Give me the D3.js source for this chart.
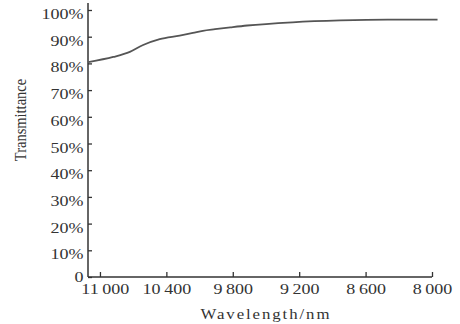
<!DOCTYPE html>
<html>
<head>
<meta charset="utf-8">
<script src="https://cdn.jsdelivr.net/npm/d3@7"></script>
<style>
  html, body { margin: 0; padding: 0; background: #fff; }
  svg text { font-family: "Liberation Serif", "Times New Roman", serif; fill: #333; }
</style>
</head>
<body>
<div id="chart"></div>
<script>
// Transmittance curve
const wavelengths = [11105, 10880, 10730, 10610, 10460, 10280, 10160, 10070, 9960, 9820, 9670, 9260, 8830, 8400, 7950];
const transmittance = [80.5, 82.4, 84.3, 86.9, 89.1, 90.4, 91.4, 92.2, 92.8, 93.5, 94.2, 95.4, 96.1, 96.4, 96.4];
const xTicks = [11000, 10400, 9800, 9200, 8600, 8000];
const yTicks = [0, 10, 20, 30, 40, 50, 60, 70, 80, 90, 100];

const data = wavelengths.map((w, i) => ({ w: w, t: transmittance[i] }));

// Set dimensions and margins
const W = 460, H = 324;
const margin = { top: 10, right: 28, bottom: 47, left: 88 };
const width = W - margin.left - margin.right;
const height = H - margin.top - margin.bottom;
const ink = "#333";

const svg = d3.select("#chart")
    .append("svg")
    .attr("width", W)
    .attr("height", H)
    .append("g")
    .attr("transform", `translate(${margin.left},${margin.top})`);

// Scales (wavelength runs right to left)
const x = d3.scaleLinear()
    .domain([11108, 8000])
    .range([0, width]);

const y = d3.scaleLinear()
    .domain([0, 100])
    .range([height, 0]);

// X axis, ticks pointing inward
const xAxis = svg.append("g")
    .attr("transform", `translate(0,${height})`)
    .call(d3.axisBottom(x)
        .tickValues(xTicks)
        .tickSizeInner(-5)
        .tickSizeOuter(0)
        .tickFormat(d => d3.format(",")(d).replace(",", "\u2009")));

xAxis.select(".domain").remove();
xAxis.selectAll(".tick line").attr("stroke", ink).attr("stroke-width", 1.3);
xAxis.selectAll(".tick text")
    .attr("y", 17)
    .attr("dy", null)
    .attr("dx", (d, i) => i === 0 ? 4 : 0)
    .attr("transform", "scale(1.2,1)")
    .style("font-size", "15px")
    .style("fill", ink);

// Y axis, ticks pointing inward
const yAxis = svg.append("g")
    .call(d3.axisLeft(y)
        .tickValues(yTicks)
        .tickSizeInner(-4)
        .tickSizeOuter(0)
        .tickFormat(d => d === 0 ? "0" : d + "%"));

yAxis.select(".domain").remove();
yAxis.selectAll(".tick line").attr("stroke", ink).attr("stroke-width", 1.3);
yAxis.selectAll(".tick text")
    .attr("x", -3.8)
    .attr("dy", d => d === 0 ? "4px" : "8.5px")
    .attr("transform", "scale(1.2,1)")
    .style("font-size", "15px")
    .style("fill", ink);

// Axis lines
svg.append("line")
    .attr("x1", 0).attr("x2", 0)
    .attr("y1", y(100) - 7).attr("y2", height)
    .attr("stroke", ink)
    .attr("stroke-width", 1.5);

svg.append("line")
    .attr("x1", 0).attr("x2", x(8000))
    .attr("y1", height).attr("y2", height)
    .attr("stroke", ink)
    .attr("stroke-width", 1.5);

// Curve
const line = d3.line()
    .x(d => x(d.w))
    .y(d => y(d.t))
    .curve(d3.curveMonotoneX);

svg.append("path")
    .datum(data)
    .attr("fill", "none")
    .attr("stroke", "#555")
    .attr("stroke-width", 1.8)
    .attr("d", line);

// Axis titles
svg.append("text")
    .attr("transform", `translate(${x(9500)}, ${height + 42}) scale(1.2,1)`)
    .attr("text-anchor", "middle")
    .style("font-size", "14px")
    .style("letter-spacing", "1.6px")
    .text("Wavelength/nm");

svg.append("text")
    .attr("transform", `translate(${-margin.left + 26}, ${110}) scale(1.2,1) rotate(-90)`)
    .attr("text-anchor", "middle")
    .style("font-size", "14.5px")
    .text("Transmittance");
</script>
</body>
</html>
